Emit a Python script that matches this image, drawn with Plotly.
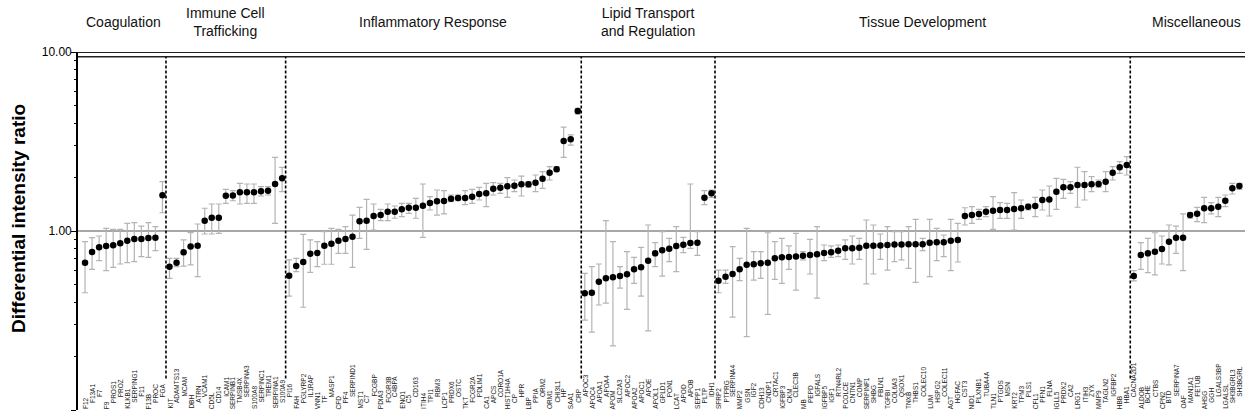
import plotly.graph_objects as go

# ---------------- data ----------------
group_names = ["Coagulation", "Immune Cell<br>Trafficking", "Inflammatory Response",
               "Lipid Transport<br>and Regulation", "Tissue Development", "Miscellaneous"]

coag_genes = ["F12", "F13A1", "F7", "F9", "PROS1", "PROZ", "KLKB1", "SERPING1", "F11", "F13B", "PROC", "FGA"]
coag_val = [0.665, 0.763, 0.811, 0.825, 0.832, 0.853, 0.883, 0.902, 0.902, 0.914, 0.918, 1.583]
coag_hi = [0.872, 0.918, 0.938, 1.035, 1.022, 1.022, 1.104, 1.113, 1.066, 1.113, 1.057, 1.887]
coag_lo = [0.452, 0.611, 0.683, 0.600, 0.627, 0.654, 0.665, 0.674, 0.719, 0.713, 0.776, 1.265]

immune_genes = ["KIT", "ADAMTS13", "MCAM", "DBH", "ATRN", "VCAM1", "CD5L", "CD14", "ICAM1", "SERPINB1",
                "TMSB4X", "SERPINA3", "S100A8", "SERPINC1", "TREM1", "SERPINA1", "S100A9"]
immune_val = [0.632, 0.665, 0.760, 0.818, 0.828, 1.142, 1.187, 1.187, 1.574, 1.58, 1.645, 1.645, 1.645,
              1.666, 1.68, 1.83, 1.97]
immune_hi = [0.703, 0.703, 0.891, 0.979, 1.094, 1.34, 1.415, 1.415, 1.709, 1.68, 1.846, 1.83, 1.83,
             1.769, 1.769, 2.58, 2.268]
immune_lo = [0.544, 0.632, 0.637, 0.646, 0.556, 0.962, 0.962, 0.970, 1.428, 1.476, 1.415, 1.428, 1.428,
             1.569, 1.589, 1.104, 1.659]

inflam_genes = ["PI16", "FAH", "PGLYRP2", "IL1RAP", "VNN1", "TF", "MASP1", "CFD", "PF4", "SERPIND1",
                "MST1", "C7", "FCGBP", "PDIA3", "FCGR3B", "C4BPA", "ENO1", "C5", "CD163", "ITIH4",
                "TPI1", "RBM3", "LCP1", "PRDX6", "OSTC", "TKT", "FCGR2A", "PDLIM1", "CA1", "APCS",
                "CORO1A", "HIST1H4A", "CP", "HPR", "LBP", "PPIA", "ORM2", "ORM1", "CHI3L1", "HP",
                "SAA1", "CRP"]
inflam_val = [0.563, 0.637, 0.671, 0.747, 0.754, 0.828, 0.850, 0.883, 0.902, 0.930, 1.132, 1.142, 1.213,
              1.228, 1.282, 1.282, 1.322, 1.349, 1.35, 1.384, 1.433, 1.465, 1.47, 1.516, 1.53, 1.53,
              1.555, 1.61, 1.623, 1.724, 1.746, 1.777, 1.79, 1.822, 1.822, 1.862, 1.96, 2.118, 2.211,
              3.18, 3.25, 4.68]
inflam_hi = [0.689, 0.703, 0.958, 0.891, 0.872, 0.991, 1.035, 1.02, 1.057, 1.228, 1.356, 1.503, 1.415,
             1.322, 1.415, 1.379, 1.428, 1.428, 1.522, 1.83, 1.555, 1.694, 1.68, 1.589, 1.589, 1.68,
             1.709, 1.754, 1.845, 1.862, 1.846, 1.986, 1.927, 2.028, 1.887, 2.055, 2.144, 2.287, 2.287,
             3.80, 3.44, 4.85]
inflam_lo = [0.433, 0.593, 0.375, 0.588, 0.632, 0.652, 0.652, 0.750, 0.750, 0.627, 0.910, 0.790, 1.013,
             1.142, 1.142, 1.178, 1.202, 1.255, 1.178, 0.922, 1.31, 1.228, 1.245, 1.458, 1.476, 1.403,
             1.428, 1.49, 1.367, 1.589, 1.623, 1.542, 1.659, 1.569, 1.754, 1.659, 1.731, 1.927, 2.144,
             2.58, 3.02, 4.50]

lipid_genes = ["APOC3", "APOC4", "APOA1", "APOA4", "APOM", "SLC2A3", "APOC2", "APOA2", "APOC1", "APOE",
               "APOL1", "GPLD1", "PON1", "LCAT", "APOD", "APOB", "SEPP1", "PLTP", "IDH1"]
lipid_val = [0.449, 0.452, 0.521, 0.544, 0.551, 0.560, 0.573, 0.611, 0.627, 0.683, 0.750, 0.780, 0.796,
             0.825, 0.839, 0.857, 0.86, 1.535, 1.623]
lipid_hi = [0.580, 0.632, 0.654, 1.142, 0.872, 0.632, 0.766, 0.713, 0.811, 1.08, 0.861, 0.991, 0.910,
            1.057, 0.922, 1.83, 0.991, 1.68, 1.694]
lipid_lo = [0.318, 0.272, 0.386, 0.395, 0.228, 0.479, 0.365, 0.51, 0.433, 0.277, 0.632, 0.560, 0.674,
            0.593, 0.757, 0.80, 0.731, 1.403, 1.542]

tissue_genes = ["SFRP2", "PTPRG", "SERPINA4", "MMP2", "GSN", "IGF2", "CDH13", "CNDP1", "CRTAC1", "IGFBP3",
                "CKM", "CLEC3B", "MB", "PEPD", "IGFALS", "IGFBP5", "IGF1", "RTN4RL2", "PCOLCE", "CNTN1",
                "COMP", "SERPINF1", "SHBG", "FBLN1", "TGFBI", "COL6A3", "QSOX1", "TNXB", "THBS1",
                "COLEC10", "LUM", "HSPG2", "COLEC11", "AGT", "HGFAC", "CST3", "NID1", "PLXNB1", "TUBA4A",
                "TLN1", "PTGDS", "MSN", "KRT2", "TPM3", "PLS1", "CFL1", "PFN1", "FLNA", "IGLL5", "PRDX2",
                "CA2", "LRG1", "ITIH3", "ZYX", "MMP9", "TAGLN2", "IGFBP2", "HBB", "HBA1"]
tissue_val = [0.528, 0.556, 0.575, 0.611, 0.648, 0.651, 0.660, 0.665, 0.704, 0.713, 0.716, 0.72, 0.728,
              0.735, 0.741, 0.754, 0.76, 0.776, 0.800, 0.80, 0.807, 0.828, 0.828, 0.83, 0.835, 0.84,
              0.84, 0.842, 0.842, 0.842, 0.861, 0.865, 0.865, 0.883, 0.891, 1.213, 1.228, 1.245, 1.282,
              1.299, 1.31, 1.31, 1.327, 1.339, 1.367, 1.379, 1.49, 1.50, 1.659, 1.754, 1.754, 1.807,
              1.81, 1.823, 1.83, 1.887, 2.118, 2.27, 2.338]
tissue_hi = [0.605, 0.605, 0.818, 0.704, 1.035, 0.766, 0.766, 0.978, 0.872, 0.910, 0.825, 0.970, 0.766,
             0.898, 1.057, 0.835, 0.825, 0.835, 0.891, 0.938, 0.910, 1.152, 1.08, 0.962, 1.057, 0.992,
             0.992, 1.057, 1.162, 0.910, 1.162, 1.035, 0.95, 1.162, 1.104, 1.349, 1.367, 1.322, 1.367,
             1.555, 1.439, 1.428, 1.637, 1.49, 1.415, 1.542, 1.694, 1.784, 1.97, 1.944, 1.887, 2.27,
             2.144, 2.012, 1.927, 2.144, 2.287, 2.438, 2.60]
tissue_lo = [0.452, 0.51, 0.330, 0.528, 0.257, 0.532, 0.544, 0.342, 0.537, 0.51, 0.611, 0.468, 0.689,
             0.575, 0.422, 0.683, 0.713, 0.719, 0.695, 0.654, 0.695, 0.506, 0.575, 0.695, 0.605, 0.674,
             0.689, 0.619, 0.517, 0.776, 0.556, 0.683, 0.719, 0.600, 0.671, 1.08, 1.104, 1.162, 1.202,
             1.022, 1.177, 1.177, 1.013, 1.177, 1.31, 1.202, 1.31, 1.213, 1.322, 1.522, 1.623, 1.357,
             1.49, 1.659, 1.754, 1.659, 1.927, 2.1, 2.055]

misc_genes = ["CACNA2D1", "ALDOB", "BCHE", "CTBS", "CPN2", "BTD", "SERPINA7", "OAF", "MAN1A1", "FETUB",
              "AHSG", "GGH", "LGALS3BP", "LGALSL", "SH3BGRL3", "SH3BGRL"]
misc_val = [0.560, 0.734, 0.750, 0.766, 0.793, 0.872, 0.918, 0.918, 1.228, 1.25, 1.34, 1.34, 1.368,
            1.476, 1.731, 1.783]
misc_hi = [0.600, 0.861, 0.910, 0.978, 0.938, 1.08, 1.066, 1.245, 1.265, 1.356, 1.542, 1.439, 1.542,
           1.589, 1.846, 1.846]
misc_lo = [0.527, 0.611, 0.585, 0.568, 0.654, 0.646, 0.750, 0.600, 1.178, 1.127, 1.113, 1.245, 1.202,
           1.368, 1.61, 1.709]

y_ticks = [0.1, 1, 10]
y_tick_text = ["0.10", "1.00", "10.00"]
y_minor_ticks = [0.2, 0.3, 0.4, 0.5, 0.6, 0.7, 0.8, 0.9, 2, 3, 4, 5, 6, 7, 8, 9]
y_title = "Differential intensity ratio"

# ---------------- build ----------------
groups = [
    (coag_genes, coag_val, coag_hi, coag_lo),
    (immune_genes, immune_val, immune_hi, immune_lo),
    (inflam_genes, inflam_val, inflam_hi, inflam_lo),
    (lipid_genes, lipid_val, lipid_hi, lipid_lo),
    (tissue_genes, tissue_val, tissue_hi, tissue_lo),
    (misc_genes, misc_val, misc_hi, misc_lo),
]

genes, vals, hi, lo = [], [], [], []
bounds = []
for g, v, h, l in groups:
    start = len(vals)
    genes += g
    vals += v
    hi += h
    lo += l
    bounds.append((start, len(vals) - 1))

n = len(vals)
xs = list(range(n))
err_plus = [h - v for h, v in zip(hi, vals)]
err_minus = [v - l for v, l in zip(vals, lo)]

FONT = "Liberation Sans, Arial, sans-serif"

fig = go.Figure()
fig.add_trace(go.Scatter(
    x=xs, y=vals, mode="markers",
    marker=dict(color="black", size=6.5, symbol="circle"),
    error_y=dict(type="data", symmetric=False, array=err_plus, arrayminus=err_minus,
                 color="#b4b4b4", thickness=1.2, width=3),
    showlegend=False, hoverinfo="x+y",
))
# invisible trace on the overlay axis that carries the minor ticks
fig.add_trace(go.Scatter(x=[0], y=[1], yaxis="y2", mode="markers",
                         marker=dict(opacity=0), showlegend=False, hoverinfo="skip"))

shapes = []
shapes.append(dict(type="line", xref="paper", x0=0, x1=1, yref="y", y0=1, y1=1,
                   line=dict(color="#8a8a8a", width=1.6), layer="below"))
shapes.append(dict(type="line", xref="paper", x0=0, x1=1, yref="y", y0=10, y1=10,
                   line=dict(color="#222", width=2.2)))
shapes.append(dict(type="line", xref="paper", x0=0, x1=1, yref="y", y0=9.4, y1=9.4,
                   line=dict(color="#222", width=1.4)))
for (s, e) in bounds[:-1]:
    xsep = e + 0.5
    shapes.append(dict(type="line", xref="x", x0=xsep, x1=xsep, yref="y", y0=0.15, y1=9.4,
                       line=dict(color="black", width=1.6, dash="3px,2px")))

annotations = []
for gi, ((s, e), name) in enumerate(zip(bounds, group_names)):
    xc = (s + e) / 2
    annotations.append(dict(x=xc, xref="x", y=1, yref="paper", yanchor="middle", yshift=30,
                            xshift=10 if gi == len(bounds) - 1 else 0,
                            text=name, showarrow=False,
                            font=dict(family=FONT, size=14, color="#111")))
annotations.append(dict(x=0, xref="paper", xshift=-60, xanchor="center", y=0.5, yref="paper", yshift=12,
                        text="<b>" + y_title + "</b>", textangle=-90, showarrow=False,
                        font=dict(family=FONT, size=19, color="black")))
stagger = [0, 6, 12]
for i, g in enumerate(genes):
    annotations.append(dict(x=i, xref="x", y=-1, yref="y", yanchor="bottom", xanchor="center",
                            yshift=stagger[i % 3] - 1,
                            text=g, textangle=-90, showarrow=False,
                            font=dict(family=FONT, size=6.5, color="#222")))

fig.update_layout(
    width=1245, height=416,
    margin=dict(l=78, r=0, t=52, b=6, autoexpand=False),
    paper_bgcolor="white", plot_bgcolor="white",
    shapes=shapes, annotations=annotations,
    font=dict(family=FONT, color="black"),
    yaxis2=dict(type="log", range=[-1, 1], overlaying="y", side="left", anchor="x",
                tickvals=y_minor_ticks, showticklabels=False, ticks="outside", ticklen=3,
                tickwidth=1.1, tickcolor="black", showgrid=False, zeroline=False, showline=False,
                automargin=False),
)
fig.update_xaxes(range=[-1, n - 0.2], showgrid=False, zeroline=False, showticklabels=False,
                 ticks="", showline=False, automargin=False)
fig.layout.yaxis.update(type="log", range=[-1, 1], tickvals=y_ticks, ticktext=y_tick_text,
                        showgrid=False, zeroline=False, showline=True, linecolor="black", linewidth=1.6,
                        ticks="outside", ticklen=5, tickwidth=1.3, tickcolor="black", automargin=False,
                        ticklabelstandoff=-3,
                        tickfont=dict(size=12, color="black", family=FONT))

# remove the default page margin so the figure sits at the window's top-left corner
fig.write_html("out.html", config={"displayModeBar": False},
               post_script="document.body.style.margin='0px';")
